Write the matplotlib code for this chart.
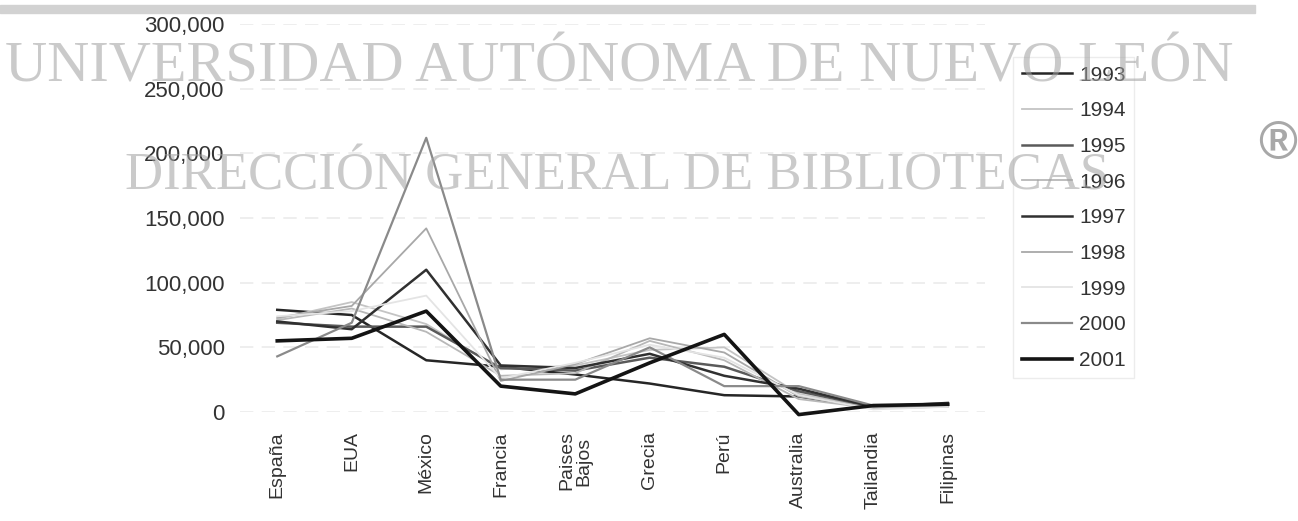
import matplotlib.pyplot as plt
import numpy as np

# paises (eje x) y visitantes por año
paises = ['España', 'EUA', 'México', 'Francia', 'Paises\nBajos', 'Grecia',
          'Perú', 'Australia', 'Tailandia', 'Filipinas']
anios = ['1993', '1994', '1995', '1996', '1997', '1998', '1999', '2000', '2001']

v1993 = [79000, 75000, 40000, 35000, 29000, 22000, 13000, 12000, 3000, 5000]
v1994 = [72000, 85000, 68000, 33000, 36000, 48000, 50000, 14000, 3000, 4000]
v1995 = [69000, 66000, 66000, 34000, 32000, 42000, 35000, 16000, 4000, 6000]
v1996 = [71000, 80000, 62000, 28000, 30000, 55000, 40000, 10000, 3000, 4000]
v1997 = [70000, 64000, 110000, 36000, 34000, 45000, 28000, 18000, 4000, 7000]
v1998 = [73000, 82000, 142000, 24000, 37000, 57000, 46000, 12000, 3000, 5000]
v1999 = [74000, 78000, 90000, 26000, 38000, 52000, 42000, 13000, 2000, 4000]
v2000 = [43000, 69000, 212000, 25000, 25000, 50000, 20000, 20000, 5000, 6000]
v2001 = [55000, 57000, 78000, 20000, 14000, 38000, 60000, -2000, 5000, 6000]
series = [v1993, v1994, v1995, v1996, v1997, v1998, v1999, v2000, v2001]

colores = ['#262626', '#c4c4c4', '#5a5a5a', '#b8b8b8', '#303030',
           '#a8a8a8', '#e4e4e4', '#8a8a8a', '#141414']
grosor = [1.8, 1.3, 1.8, 1.3, 1.8, 1.3, 1.3, 1.6, 2.6]

plt.rcParams['font.family'] = ['Liberation Sans', 'DejaVu Sans']

fig = plt.figure(figsize=(12.98, 5.21), dpi=100)
ax = fig.add_axes([240 / 1298, 1 - 412 / 521, 745 / 1298, 388 / 521])

x = np.arange(len(paises))
for vals, lab, c, lw in zip(series, anios, colores, grosor):
    ax.plot(x, vals, color=c, linewidth=lw, label=lab, clip_on=False)

ax.set_xlim(-0.5, 9.5)
ax.set_ylim(0, 300000)
ax.set_yticks(np.arange(0, 300001, 50000))
ax.set_yticklabels(['{:,}'.format(v) for v in range(0, 300001, 50000)],
                   fontsize=16, color='#333333')
ax.set_xticks(x)
ax.set_xticklabels(paises, rotation=90, fontsize=14, color='#333333',
                   va='top', linespacing=1.0)
ax.tick_params(axis='y', length=0, pad=11)
ax.tick_params(axis='x', length=0, pad=14)
for s in ax.spines.values():
    s.set_visible(False)
ax.grid(axis='y', color='#ebebeb', linewidth=1.2, linestyle=(0, (8, 5)))
ax.set_axisbelow(True)

leg = ax.legend(loc='upper left', bbox_to_anchor=(1003 / 1298, 1 - 47 / 521),
                bbox_transform=fig.transFigure, fontsize=15, frameon=True,
                handlelength=2.4, handletextpad=0.35, labelspacing=0.80,
                borderpad=0.4, fancybox=False)
leg.get_frame().set_edgecolor('#e8e8e8')
for t in leg.get_texts():
    t.set_color('#333333')

# marca de agua del escaneo
fig.patches.append(plt.Rectangle((0, 1 - 13 / 521), 1255 / 1298, 8 / 521,
                                 transform=fig.transFigure, color='#d2d2d2'))
fig.text(0.004, 1 - 81 / 521, 'UNIVERSIDAD AUTÓNOMA DE NUEVO LEÓN',
         family='Liberation Serif', fontsize=42, color='#a0a0a0', alpha=0.55,
         va='baseline', zorder=10)
fig.text(125 / 1298, 1 - 190 / 521, 'DIRECCIÓN GENERAL DE BIBLIOTECAS',
         family='Liberation Serif', fontsize=38, color='#a0a0a0', alpha=0.55,
         va='baseline', zorder=10)
fig.text(1278 / 1298, 1 - 145 / 521, '®', fontsize=38, color='#a8a8a8',
         ha='center', va='center', fontweight='bold')

fig.savefig('out.png', dpi=100)
